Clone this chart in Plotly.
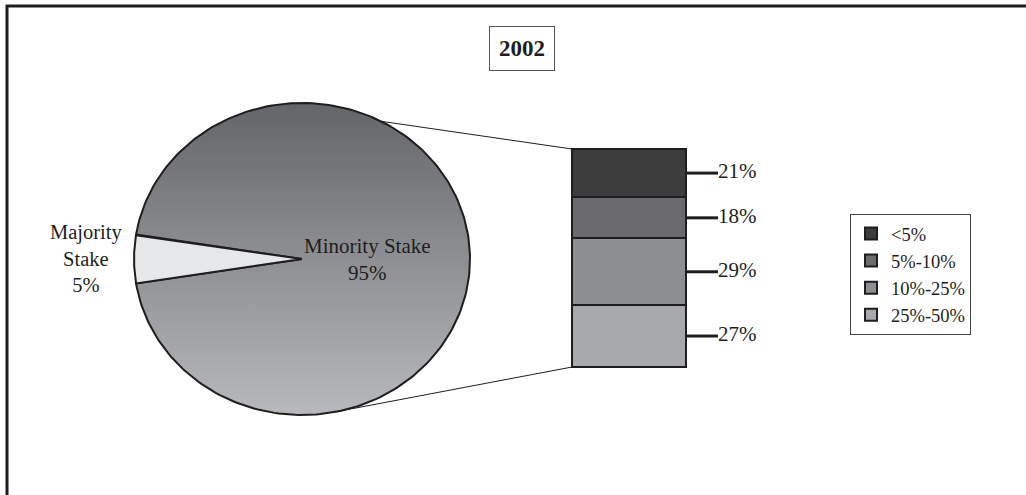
import numpy as np
import plotly.graph_objects as go

# ---------------- data ----------------
year_label = "2002"
pie_labels = ["Majority Stake", "Minority Stake"]
pie_values = [5, 95]
bar_categories = ["<5%", "5%-10%", "10%-25%", "25%-50%"]
bar_values = [21, 18, 29, 27]

# ---------------- styling / layout constants ----------------
W, H = 1026, 495
FONT = "Liberation Serif"
INK = "#1e1e1e"
CX, CY, RX, RY = 302, 259, 168, 156          # pie ellipse (pixels)
BAR_LEFT, BAR_RIGHT, BAR_TOP, BAR_BOTTOM = 572, 686, 149, 367
PAD = 9                                       # extra room around bar axis
bar_colors = ["#3d3d3d", "#6b6b6d", "#8d8e91", "#a7a8ab"]
maj_color = "#e6e7e9"
grad_top, grad_bottom = "#646569", "#b8b9bc"

fig = go.Figure()

# ---------------- pie (elliptical, drawn from values) ----------------
total = sum(pie_values)
maj_span = pie_values[0] / total * 360.0
a0 = 180 - maj_span / 2
a1 = 180 + maj_span / 2


def wedge(t_start, t_end, n=240):
    t = np.radians(np.linspace(t_start, t_end, n))
    xs = np.concatenate([[CX], CX + RX * np.cos(t), [CX]])
    ys = np.concatenate([[CY], CY - RY * np.sin(t), [CY]])
    return xs, ys


# minority slice (gradient)
xs, ys = wedge(a1, a0 + 360)
fig.add_trace(go.Scatter(
    x=xs, y=ys, mode="lines", fill="toself",
    fillgradient=dict(type="vertical", start=CY - RY, stop=CY + RY,
                      colorscale=[[0, grad_top], [1, grad_bottom]]),
    line=dict(color=INK, width=2), showlegend=False, hoverinfo="skip",
    xaxis="x", yaxis="y"))
# majority slice
xs, ys = wedge(a0, a1)
fig.add_trace(go.Scatter(
    x=xs, y=ys, mode="lines", fill="toself", fillcolor=maj_color,
    line=dict(color=INK, width=2), showlegend=False, hoverinfo="skip",
    xaxis="x", yaxis="y"))

# connector lines from pie to bar
t_up, t_dn = np.radians(62), np.radians(-79)
fig.add_trace(go.Scatter(
    x=[CX + RX * np.cos(t_up), BAR_LEFT, None, CX + RX * np.cos(t_dn), BAR_LEFT],
    y=[CY - RY * np.sin(t_up), BAR_TOP, None, CY - RY * np.sin(t_dn), BAR_BOTTOM],
    mode="lines", line=dict(color=INK, width=1), showlegend=False,
    hoverinfo="skip", xaxis="x", yaxis="y"))

# ---------------- stacked bar ----------------
bar_total = sum(bar_values)
for name, val, col in zip(bar_categories, bar_values, bar_colors):
    fig.add_trace(go.Bar(
        x=[0], y=[val], width=1, name=name.replace("<", "&lt;"),
        marker=dict(color=col, line=dict(color=INK, width=2)),
        xaxis="x2", yaxis="y2", hoverinfo="skip"))

cum = np.concatenate([[0], np.cumsum(bar_values)])
mids = (cum[:-1] + cum[1:]) / 2
px_per_unit_x = BAR_RIGHT - BAR_LEFT
tick_end = 0.5 + 32 / px_per_unit_x
lx, ly = [], []
for m in mids:
    lx += [0.5, tick_end, None]
    ly += [m, m, None]
fig.add_trace(go.Scatter(
    x=lx, y=ly, mode="lines", line=dict(color=INK, width=3),
    showlegend=False, hoverinfo="skip", xaxis="x2", yaxis="y2"))
fig.add_trace(go.Scatter(
    x=[tick_end] * len(mids), y=mids, mode="text",
    text=[f"{v}%" for v in bar_values], textposition="middle right",
    textfont=dict(family=FONT, size=21, color=INK),
    showlegend=False, hoverinfo="skip", xaxis="x2", yaxis="y2"))

# axis2 geometry derived from bar pixel box
x2_left_px = BAR_LEFT - PAD
x2_right_px = 800
x_center = (BAR_LEFT + BAR_RIGHT) / 2
x2_range = [(x2_left_px - x_center) / px_per_unit_x,
            (x2_right_px - x_center) / px_per_unit_x]
upp = bar_total / (BAR_BOTTOM - BAR_TOP)
y2_top_px, y2_bot_px = BAR_TOP - PAD, BAR_BOTTOM + PAD
y2_range = [bar_total + PAD * upp, -PAD * upp]

# ---------------- annotations ----------------
maj_words = pie_labels[0].split(" ")
ann = [
    dict(x=86, y=258, xref="x", yref="y",
         text="<br>".join(maj_words + [f"{pie_values[0]}%"]),
         showarrow=False, font=dict(family=FONT, size=20.5, color=INK)),
    dict(x=367, y=259, xref="x", yref="y",
         text=f"{pie_labels[1]}<br>{pie_values[1]}%",
         showarrow=False, font=dict(family=FONT, size=21, color=INK)),
    dict(x=522, y=48, xref="x", yref="y", text=f"<b>{year_label}</b>",
         showarrow=False, font=dict(family=FONT, size=23, color=INK),
         bordercolor="#555", borderwidth=1, borderpad=9, bgcolor="white"),
]

fig.update_layout(
    width=W, height=H, margin=dict(l=0, r=0, t=0, b=0),
    paper_bgcolor="white", plot_bgcolor="rgba(0,0,0,0)",
    barmode="stack", bargap=0,
    xaxis=dict(range=[0, W], domain=[0, 1], visible=False, fixedrange=True),
    yaxis=dict(range=[H, 0], domain=[0, 1], visible=False, fixedrange=True),
    xaxis2=dict(range=x2_range, domain=[x2_left_px / W, x2_right_px / W],
                anchor="y2", visible=False),
    yaxis2=dict(range=y2_range, domain=[1 - y2_bot_px / H, 1 - y2_top_px / H],
                anchor="x2", visible=False),
    legend=dict(x=850 / W, y=1 - 214 / H, xanchor="left", yanchor="top",
                bordercolor="#444", borderwidth=1, bgcolor="white",
                font=dict(family=FONT, size=18.5, color=INK),
                itemwidth=30, tracegroupgap=0, traceorder="normal"),
    annotations=ann,
    shapes=[dict(type="rect", xref="paper", yref="paper",
                 x0=7 / W, x1=1.1, y0=-0.1, y1=1 - 6 / H,
                 line=dict(color=INK, width=3), fillcolor="rgba(0,0,0,0)")],
    showlegend=True,
)

fig.write_html("out.html",
               config={"displayModeBar": False},
               post_script="document.body.style.margin='0';"
                           "document.body.style.padding='0';")
